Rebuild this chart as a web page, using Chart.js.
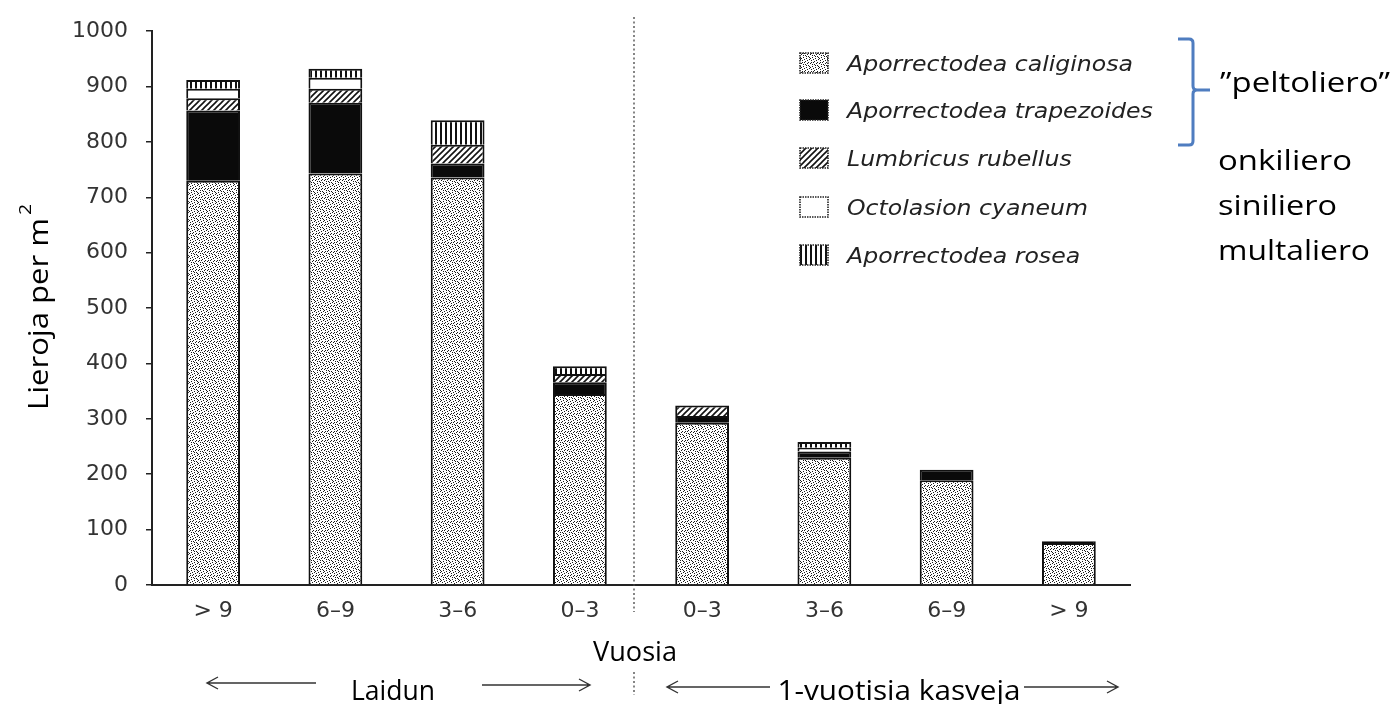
<!DOCTYPE html>
<html><head><meta charset="utf-8">
<script src="https://cdn.jsdelivr.net/npm/chart.js@4.4.0/dist/chart.umd.min.js"></script>
<style>html,body{margin:0;padding:0;background:#fff}#wrap{width:1396px;height:704px;position:relative}</style>
</head><body><div id="wrap"><canvas id="c" width="1396" height="704"></canvas></div>
<script>
// ---- data ----
const categories = ['> 9', '6–9', '3–6', '0–3', '0–3', '3–6', '6–9', '> 9'];
const speciesNames = ['Aporrectodea caliginosa', 'Aporrectodea trapezoides', 'Lumbricus rubellus', 'Octolasion cyaneum', 'Aporrectodea rosea'];
const commonNames = ['”peltoliero”', 'onkiliero', 'siniliero', 'multaliero'];
const groupLabels = ['Laidun', '1-vuotisia kasveja'];
const xTitle = 'Vuosia';
const yTitle = 'Lieroja per m';
const yTitleSup = '2';
const yMin = 0, yMax = 1000, yStep = 100;
const caliginosa  = [730, 743, 736, 345, 293, 230, 189, 76];
const trapezoides = [127, 128, 25, 21, 12, 11, 19, 3];
const rubellus    = [22, 25, 34, 15, 19, 0, 0, 0];
const cyaneum     = [17, 20, 0, 0, 0, 7, 0, 0];
const rosea       = [16, 16, 44, 14, 0, 10, 0, 0];

// ---- patterns ----
function makeTile(w, h, draw) {
  const c = document.createElement('canvas'); c.width = w; c.height = h;
  const g = c.getContext('2d'); g.fillStyle = '#fff'; g.fillRect(0, 0, w, h); draw(g, w, h);
  return document.getElementById('c').getContext('2d').createPattern(c, 'repeat');
}
const stipple = makeTile(9, 9, (g) => {
  g.fillStyle = '#1a1a1a';
  [[0,0],[4,1],[7,2],[2,3],[5,4],[8,5],[1,6],[4,7],[7,8],[3,8],[6,0],[0,4],[2,1],[6,6],[8,3],[3,5],[1,8],[5,2]].forEach(p => g.fillRect(p[0], p[1], 1, 1));
});
const hatch = makeTile(6, 6, (g) => {
  g.strokeStyle = '#111'; g.lineWidth = 1.6;
  g.beginPath(); g.moveTo(-1, 7); g.lineTo(7, -1); g.moveTo(-1, 1); g.lineTo(1, -1); g.moveTo(5, 7); g.lineTo(7, 5); g.stroke();
});
const vstripes = makeTile(5, 4, (g) => { g.fillStyle = '#111'; g.fillRect(0, 0, 2, 4); });
const fills = [stipple, '#0a0a0a', hatch, '#ffffff', vstripes];
const seriesData = [caliginosa, trapezoides, rubellus, cyaneum, rosea];

function stretchText(ctx, text, x, y, font, w, align, color) {
  ctx.save(); ctx.font = font; ctx.fillStyle = color || '#000'; ctx.textBaseline = 'alphabetic'; ctx.textAlign = 'left';
  const m = ctx.measureText(text).width; const sx = w ? w / m : 1; const ww = m * sx;
  const x0 = align === 'center' ? x - ww / 2 : align === 'right' ? x - ww : x;
  ctx.translate(x0, y); ctx.scale(sx, 1); ctx.fillText(text, 0, 0); ctx.restore();
}
function arrow(ctx, x1, x2, y, dir) {
  ctx.save(); ctx.strokeStyle = '#333'; ctx.lineWidth = 1.4;
  ctx.beginPath(); ctx.moveTo(x1, y); ctx.lineTo(x2, y);
  const tip = dir < 0 ? x1 : x2, s = dir < 0 ? 1 : -1;
  ctx.moveTo(tip + s * 11, y - 6); ctx.lineTo(tip, y); ctx.lineTo(tip + s * 11, y + 6);
  ctx.stroke(); ctx.restore();
}

const annot = {
  id: 'annot',
  afterDraw(chart) {
    const ctx = chart.ctx;
    // divider
    ctx.save(); ctx.strokeStyle = '#444'; ctx.lineWidth = 1.3; ctx.setLineDash([2, 2.5]);
    ctx.beginPath(); ctx.moveTo(634, 17); ctx.lineTo(634, 612); ctx.moveTo(634, 672); ctx.lineTo(634, 695); ctx.stroke(); ctx.restore();
    // y title
    ctx.save(); ctx.translate(48, 410); ctx.rotate(-Math.PI / 2);
    stretchText(ctx, yTitle, 0, 0, '27px "Open Sans"', 192, 'left', '#000');
    stretchText(ctx, yTitleSup, 195, -17, '17px "Open Sans"', 11, 'left', '#000');
    ctx.restore();
    // x labels
    stretchText(ctx, xTitle, 635, 661, '28px "Open Sans"', 84, 'center', '#000');
    stretchText(ctx, groupLabels[0], 393, 700, '28px "Open Sans"', 84, 'center', '#000');
    stretchText(ctx, groupLabels[1], 899, 700, '28px "Open Sans"', 243, 'center', '#000');
    arrow(ctx, 207, 316, 683, -1); arrow(ctx, 482, 590, 685, 1);
    arrow(ctx, 667, 770, 687, -1); arrow(ctx, 1024, 1118, 687, 1);
    // legend
    const rows = [63, 110, 158, 207, 255];
    ctx.save(); ctx.font = 'italic 21px "DejaVu Sans"';
    const sx = 286 / ctx.measureText(speciesNames[0]).width; ctx.restore();
    speciesNames.forEach((n, i) => {
      const cy = rows[i];
      ctx.save(); ctx.fillStyle = fills[i]; ctx.fillRect(800, cy - 10, 28, 20);
      ctx.strokeStyle = '#222'; ctx.lineWidth = 1.6; ctx.setLineDash([1.5, 1]); ctx.strokeRect(800, cy - 10, 28, 20); ctx.restore();
      ctx.save(); ctx.font = 'italic 21px "DejaVu Sans"'; const m = ctx.measureText(n).width; ctx.restore();
      stretchText(ctx, n, 847, cy + 8, 'italic 21px "DejaVu Sans"', m * sx, 'left', '#222');
    });
    // bracket
    ctx.save(); ctx.strokeStyle = '#4F7DC0'; ctx.lineWidth = 3; ctx.lineJoin = 'round';
    ctx.beginPath(); ctx.moveTo(1178, 39); ctx.lineTo(1189, 39); ctx.quadraticCurveTo(1193, 39, 1193, 43);
    ctx.lineTo(1193, 86); ctx.quadraticCurveTo(1193, 90, 1197, 90); ctx.lineTo(1210, 90);
    ctx.moveTo(1197, 90); ctx.quadraticCurveTo(1193, 90, 1193, 94); ctx.lineTo(1193, 141);
    ctx.quadraticCurveTo(1193, 145, 1189, 145); ctx.lineTo(1178, 145); ctx.stroke(); ctx.restore();
    // common names
    stretchText(ctx, commonNames[0], 1220, 92, '28px "Open Sans"', 170, 'left', '#000');
    stretchText(ctx, commonNames[1], 1218, 170, '28px "Open Sans"', 134, 'left', '#000');
    stretchText(ctx, commonNames[2], 1218, 215, '28px "Open Sans"', 119, 'left', '#000');
    stretchText(ctx, commonNames[3], 1218, 260, '28px "Open Sans"', 152, 'left', '#000');
  }
};

new Chart(document.getElementById('c'), {
  type: 'bar',
  data: {
    labels: categories,
    datasets: speciesNames.map((n, i) => ({
      label: n, data: seriesData[i], backgroundColor: fills[i], borderColor: '#111', borderWidth: 2,
      barPercentage: 0.44, categoryPercentage: 1.0
    }))
  },
  options: {
    responsive: false, animation: false,
    layout: { padding: { left: 0, right: 266, top: 25, bottom: 0 } },
    plugins: { legend: { display: false }, tooltip: { enabled: false } },
    scales: {
      x: {
        stacked: true,
        grid: { display: false, drawTicks: false },
        border: { display: true, color: '#222', width: 2 },
        ticks: { font: { family: 'DejaVu Sans', size: 22 }, color: '#333', padding: 13 },
        afterFit(s) { s.height = 119; }
      },
      y: {
        stacked: true, min: yMin, max: yMax,
        grid: { drawOnChartArea: false, drawTicks: true, tickLength: 6, color: '#222', lineWidth: 1.5 },
        border: { display: true, color: '#222', width: 2 },
        ticks: { stepSize: yStep, font: { family: 'DejaVu Sans', size: 22 }, color: '#333', padding: 18,
                 callback: (v) => String(v) },
        afterFit(s) { s.width = 152; }
      }
    }
  },
  plugins: [annot]
});
</script></body></html>
